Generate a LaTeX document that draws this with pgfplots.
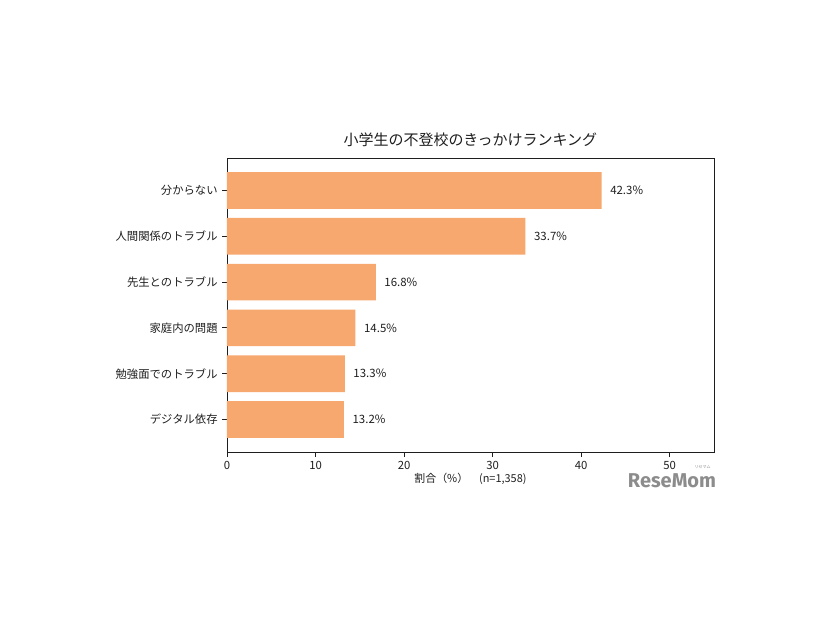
\documentclass[border=0pt]{standalone}
\usepackage{fontspec}
\setmainfont{Noto Sans CJK JP}
\newfontfamily\logofont{Fira Sans}
\usepackage{pgfplots}
\usepackage{pgfplotstable}
\pgfplotsset{compat=1.18}
\definecolor{barc}{RGB}{247,168,110}
\definecolor{txt}{RGB}{30,30,30}
\definecolor{logo}{RGB}{140,140,140}
\pgfplotstableread{
i v
0 42.3
1 33.7
2 16.8
3 14.5
4 13.3
5 13.2
}\datatab
\begin{document}
\begin{tikzpicture}
\useasboundingbox (0pt,0pt) rectangle (619.5pt,465pt);
\begin{axis}[
  at={(170.25pt,126pt)}, anchor=south west,
  width=365.25pt, height=220.5pt, scale only axis,
  xmin=0, xmax=55, ymin=-0.71, ymax=5.71,
  y dir=reverse,
  xtick={0,10,20,30,40,50},
  ytick={0,1,2,3,4,5},
  yticklabels={分からない,人間関係のトラブル,先生とのトラブル,家庭内の問題,勉強面でのトラブル,デジタル依存},
  tick align=outside, tick pos=left,
  major tick length=3.5pt,
  every tick/.style={txt, line width=0.6pt},
  axis line style={txt, line width=0.7pt},
  ticklabel style={font=\fontsize{8.5}{10}\selectfont, text=txt},
  /pgf/number format/assume math mode=true,
  xlabel={割合（\%）\quad (n=1,358)},
  xlabel style={at={(axis description cs:0.5,0)}, anchor=center, yshift=-20.25pt, font=\fontsize{8.2}{9}\selectfont, text=txt},
  clip=false,
]
\addplot[xbar, fill=barc, draw=none, bar width=0.8,
  point meta=x,
  nodes near coords={\pgfmathprintnumber[fixed,precision=1,fixed zerofill]{\pgfplotspointmeta}\%},
  nodes near coords style={anchor=west, xshift=3pt, font=\fontsize{8.6}{10}\selectfont, text=txt}
] table[x=v, y=i] {\datatab};
\node[font=\fontsize{11.25}{13}\selectfont, text=txt] at (rel axis cs:0.5,1) [yshift=13.5pt] {小学生の不登校のきっかけランキング};
\end{axis}
\node[font=\logofont\bfseries\fontsize{15}{16}\selectfont, text=logo] at (504pt,104.25pt) {ReseMom};
\node[font=\fontsize{3}{3.5}\selectfont, text=logo] at (527pt,115pt) {リセマム};
\end{tikzpicture}
\end{document}
